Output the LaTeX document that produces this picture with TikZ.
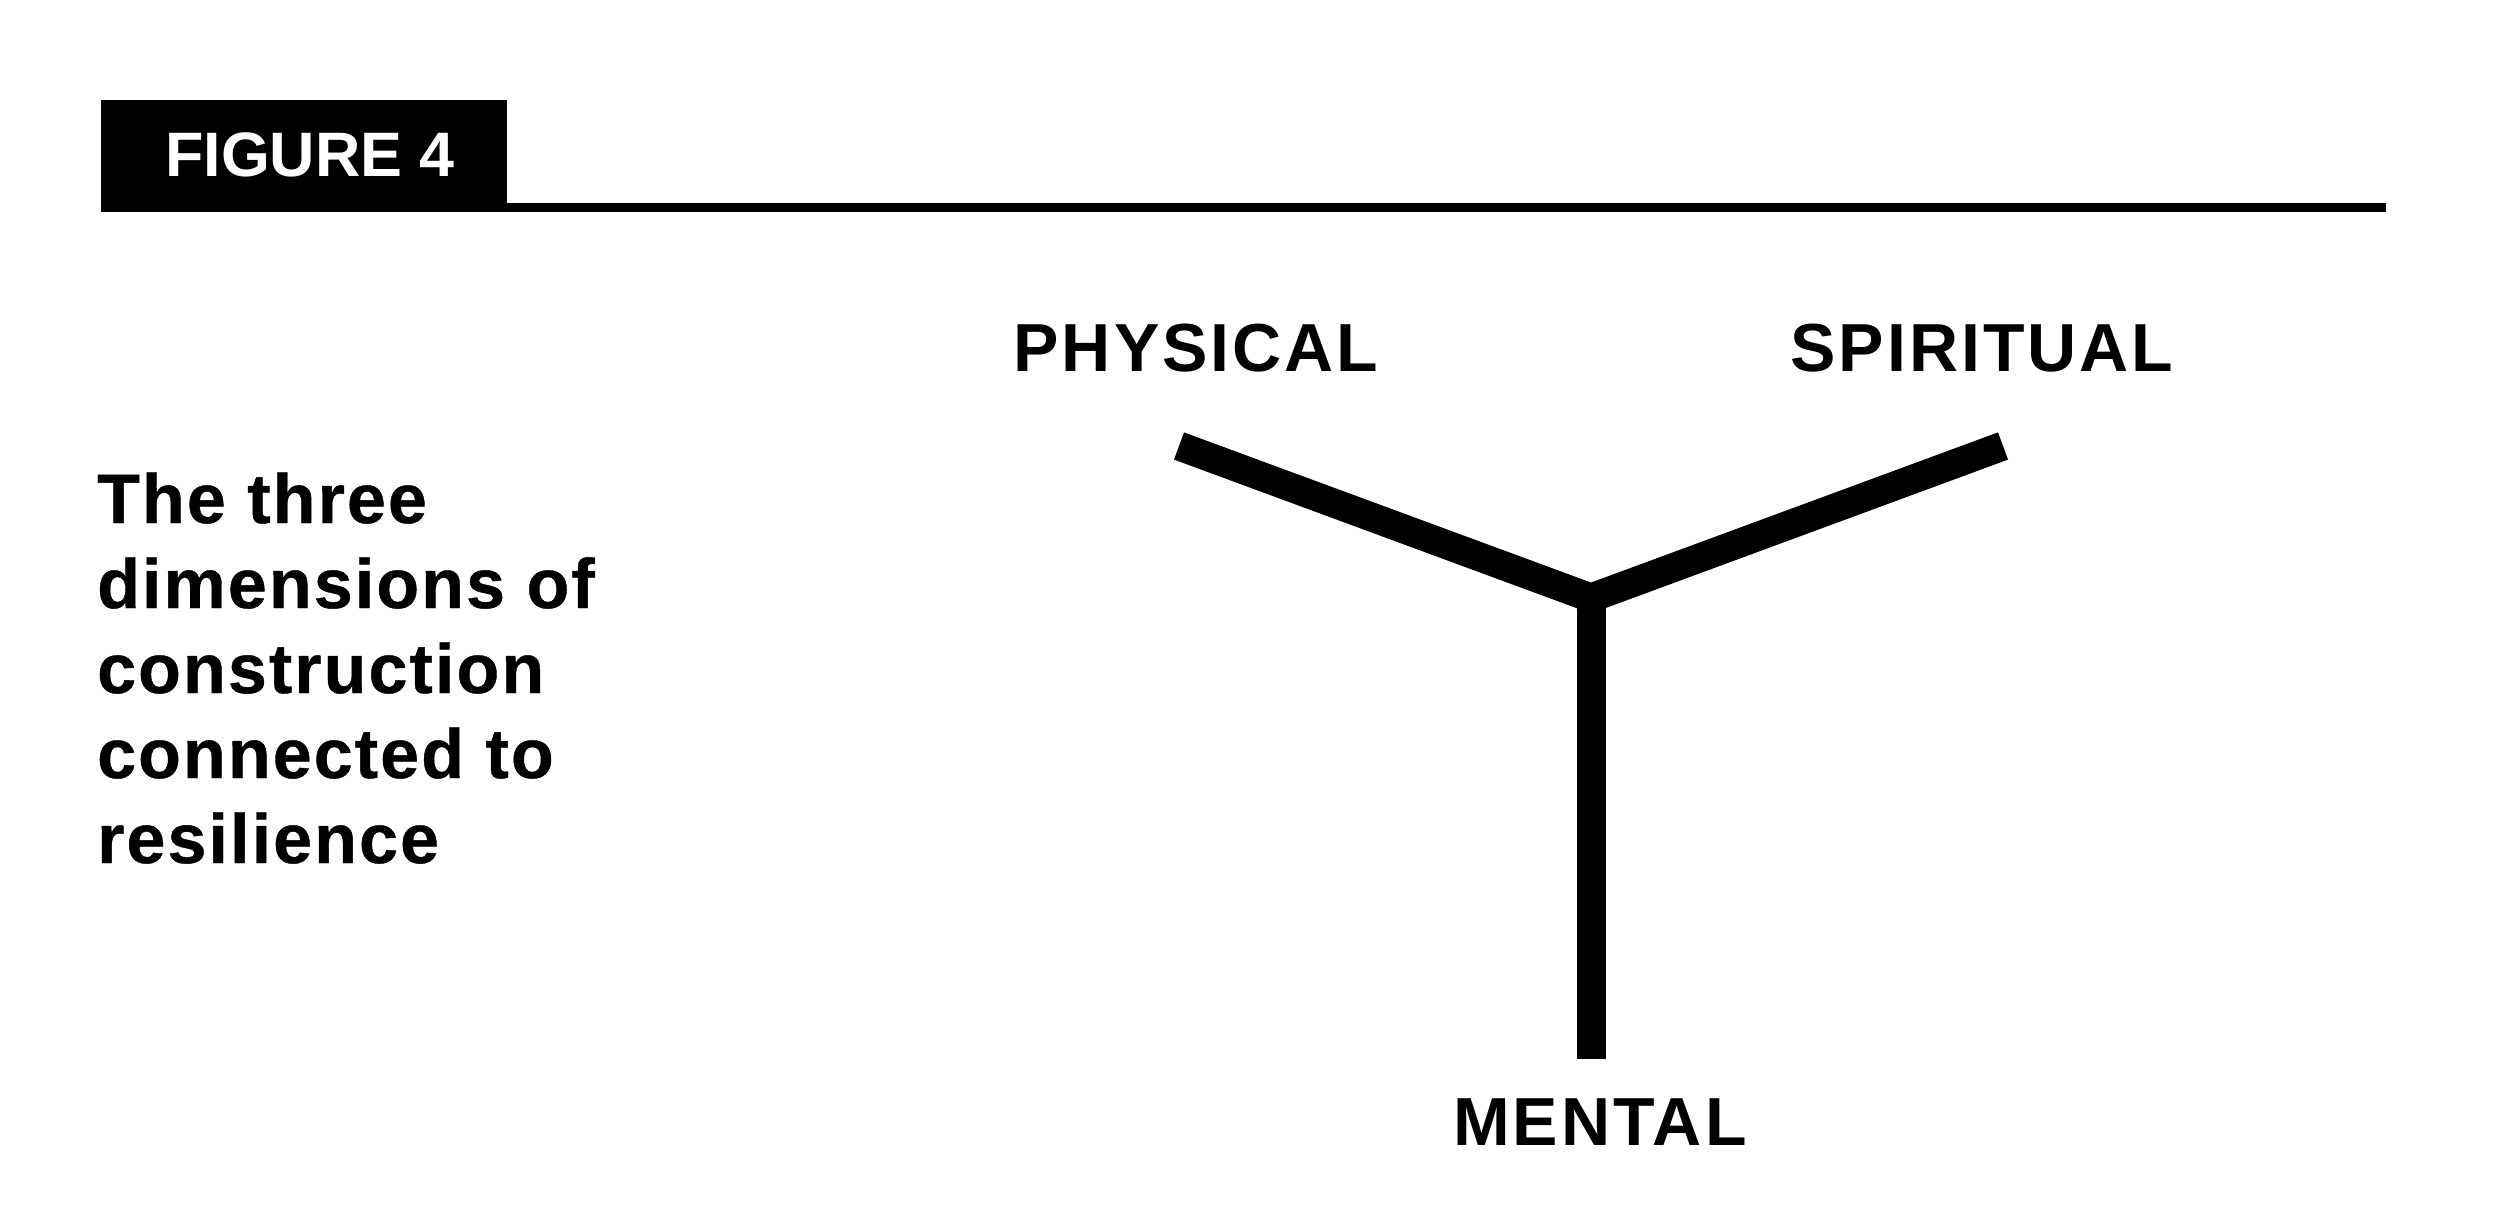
\documentclass[tikz,border=0pt]{standalone}
\usepackage{fontspec}
\setmainfont{Liberation Sans}
\newfontfamily\labelfont[LetterSpace=4.4]{Liberation Sans}
\newfontfamily\bodyfont[LetterSpace=3.0,BoldFeatures={FakeBold=0.6}]{Liberation Sans}
\begin{document}
\begin{tikzpicture}[x=1pt,y=-1pt,
  headtext/.style={text=white,font=\fontsize{62.8}{70}\selectfont\bfseries,inner sep=0pt,anchor=base west},
  bodytext/.style={font=\bodyfont\fontsize{70}{85}\selectfont\bfseries,inner sep=0pt,anchor=base west,align=left},
  dimlabel/.style={font=\labelfont\fontsize{68}{75}\selectfont\bfseries,inner sep=0pt,anchor=base},
  arm/.style={line width=29pt,line cap=butt,line join=miter}]
\useasboundingbox (0,0) rectangle (2500,1230);
% header
\fill[black] (101,100) rectangle (507,212);
\fill[black] (505,203) rectangle (2386,212);
\node[headtext] (fig) at (165,177) {FIGURE 4};
% body text (base anchor is the baseline of the last line)
\node[bodytext] (body) at (97,863) {The three\\dimensions of\\construction\\connected to\\resilience};
% labels
\node[dimlabel] (phys) at (1196,371) {PHYSICAL};
\node[dimlabel] (spir) at (1982,371) {SPIRITUAL};
\node[dimlabel] (ment) at (1600,1145) {MENTAL};
% Y shape
\coordinate (pE) at (1179,446);
\coordinate (J) at (1591,598);
\coordinate (sE) at (2003,446);
\coordinate (mE) at (1591,1059);
\draw[arm] (pE) -- (J) -- (sE);
\draw[arm] (J) -- (mE);
\end{tikzpicture}
\end{document}
